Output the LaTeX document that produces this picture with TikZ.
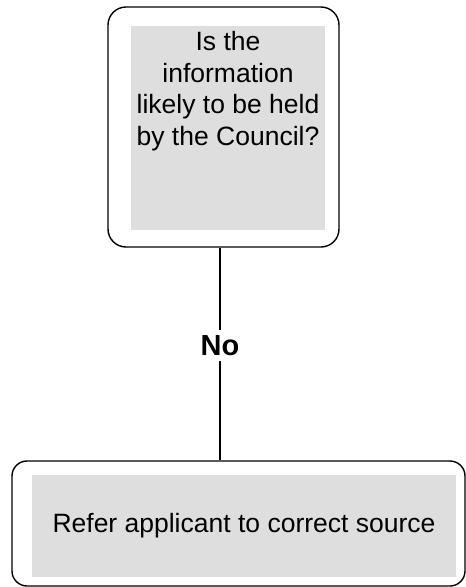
\documentclass[tikz,border=0pt]{standalone}
\usepackage{fontspec}
\setmainfont{Liberation Sans}
\tikzset{
  outerbox/.style={draw=black, line width=1.4pt, rounded corners=#1, inner sep=0pt},
  greybox/.style={fill=black!13, inner sep=0pt},
  boxtext/.style={font=\fontsize{26.5}{31.7}\selectfont, align=center, inner sep=0pt},
  nolabel/.style={font=\fontsize{29}{34}\selectfont\bfseries, fill=white, inner sep=5pt}
}
\begin{document}
\begin{tikzpicture}[x=1pt, y=-1pt]
\useasboundingbox (0,0) rectangle (466,587);

% question box
\node (question) [outerbox=18pt, minimum width=231pt, minimum height=240pt] at (223.5,127) {};
\node (qfill) [greybox, minimum width=194pt, minimum height=204pt] at (228,128) {};
\node (qtext) [boxtext, anchor=north] at (228,31) {Is the\\information\\likely to be held\\by the Council?};

% answer box
\node (refer) [outerbox=15pt, minimum width=453pt, minimum height=125pt] at (238.5,523.5) {};
\node (rfill) [greybox, minimum width=424pt, minimum height=102pt] at (244,526) {};
\node (rtext) [boxtext] at (rfill.center) {Refer applicant to correct source};

\coordinate (stem) at (220,0);
\draw[line width=1.4pt] (stem |- question.south) -- node[nolabel, pos=0.46] {No} (stem |- refer.north);
\end{tikzpicture}
\end{document}
